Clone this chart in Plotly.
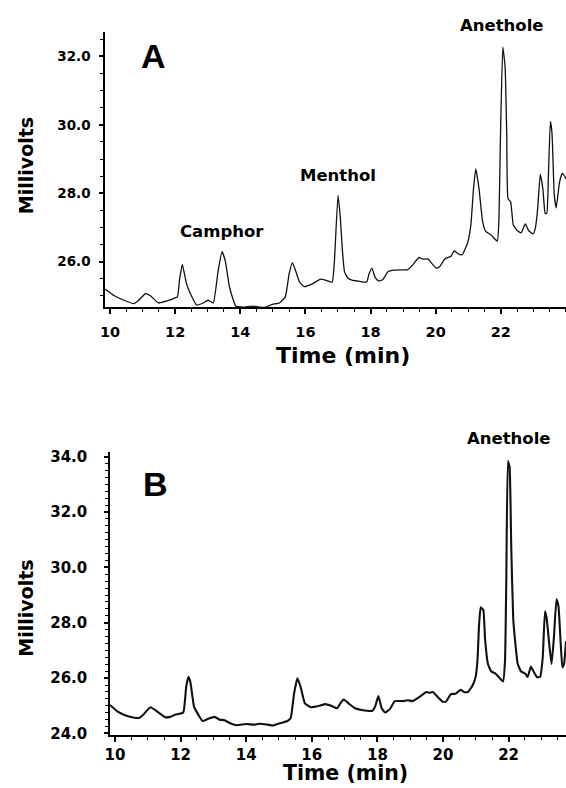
import plotly.graph_objects as go

# ---------------- data ----------------
time_a = [9.85, 10.12, 10.43, 10.73, 10.88, 11.09, 11.24, 11.49, 11.75, 12.0, 12.07, 12.14, 12.22,
          12.35, 12.47, 12.66, 12.86, 13.01, 13.17, 13.32, 13.44, 13.54, 13.67, 13.86, 14.08, 14.38,
          14.59, 14.79, 14.99, 15.2, 15.38, 15.5, 15.6, 15.7, 15.82, 15.96, 16.21, 16.47, 16.64,
          16.82, 16.89, 17.0, 17.07, 17.13, 17.2, 17.3, 17.43, 17.63, 17.88, 17.95, 18.04, 18.14,
          18.24, 18.36, 18.54, 18.69, 18.9, 19.13, 19.31, 19.48, 19.61, 19.76, 19.86, 20.02, 20.12,
          20.29, 20.47, 20.57, 20.72, 20.82, 20.98, 21.08, 21.16, 21.23, 21.33, 21.44, 21.54, 21.7,
          21.89, 21.94, 21.99, 22.06, 22.13, 22.18, 22.22, 22.3, 22.38, 22.5, 22.62, 22.75, 22.85,
          22.99, 23.06, 23.13, 23.21, 23.29, 23.36, 23.41, 23.46, 23.52, 23.57, 23.64, 23.7, 23.8,
          23.89, 24.0]
mv_a = [25.2, 25.01, 24.87, 24.77, 24.87, 25.06, 25.0, 24.79, 24.85, 24.94, 24.97, 25.5, 25.92,
        25.35, 25.06, 24.73, 24.79, 24.87, 24.79, 25.73, 26.29, 26.02, 25.25, 24.70, 24.67, 24.70,
        24.67, 24.67, 24.75, 24.79, 24.96, 25.64, 25.97, 25.73, 25.40, 25.27, 25.35, 25.49, 25.45,
        25.40, 26.02, 27.94, 27.3, 26.4, 25.7, 25.52, 25.46, 25.43, 25.40, 25.63, 25.81, 25.54,
        25.44, 25.46, 25.71, 25.75, 25.76, 25.76, 25.92, 26.12, 26.07, 26.08, 25.97, 25.81, 25.85,
        26.09, 26.16, 26.31, 26.21, 26.21, 26.55, 27.08, 28.13, 28.71, 28.13, 27.17, 26.88, 26.78,
        26.6, 27.2, 29.76, 32.27, 31.7, 29.76, 27.84, 27.75, 27.08, 26.91, 26.84, 27.1, 26.91,
        26.81, 26.98, 27.55, 28.56, 28.13, 27.41, 27.41, 28.51, 30.1, 29.76, 27.94, 27.57, 28.32,
        28.59, 28.42]

time_b = [9.85, 10.07, 10.27, 10.52, 10.73, 10.86, 11.08, 11.28, 11.53, 11.68, 11.83, 12.08, 12.17,
          12.24, 12.3, 12.41, 12.54, 12.67, 12.84, 13.04, 13.19, 13.34, 13.49, 13.7, 14.0, 14.25,
          14.4, 14.65, 14.82, 15.0, 15.26, 15.36, 15.46, 15.56, 15.66, 15.79, 15.96, 16.21, 16.41,
          16.61, 16.77, 16.87, 16.97, 17.12, 17.32, 17.52, 17.85, 17.93, 18.03, 18.13, 18.23, 18.38,
          18.53, 18.78, 18.93, 19.08, 19.28, 19.49, 19.59, 19.69, 19.84, 19.99, 20.09, 20.24, 20.39,
          20.54, 20.64, 20.76, 20.9, 21.0, 21.05, 21.1, 21.15, 21.23, 21.28, 21.37, 21.47, 21.6,
          21.73, 21.83, 21.89, 21.93, 21.98, 22.03, 22.08, 22.14, 22.2, 22.28, 22.38, 22.51, 22.58,
          22.68, 22.76, 22.86, 22.96, 23.04, 23.11, 23.16, 23.23, 23.31, 23.38, 23.46, 23.52, 23.59,
          23.64, 23.69, 23.75]
mv_b = [25.03, 24.8, 24.68, 24.59, 24.56, 24.68, 24.95, 24.8, 24.59, 24.6, 24.68, 24.76, 25.68,
        26.05, 25.85, 24.97, 24.68, 24.45, 24.53, 24.6, 24.5, 24.48, 24.38, 24.3, 24.34, 24.32,
        24.35, 24.32, 24.29, 24.36, 24.45, 24.57, 25.44, 25.99, 25.68, 25.09, 24.95, 24.99, 25.06,
        24.99, 24.91, 25.09, 25.23, 25.09, 24.91, 24.85, 24.82, 24.97, 25.35, 24.91, 24.76, 24.88,
        25.17, 25.17, 25.2, 25.17, 25.32, 25.5, 25.47, 25.5, 25.32, 25.15, 25.15, 25.42, 25.44,
        25.58, 25.5, 25.5, 25.73, 26.08, 26.62, 27.92, 28.56, 28.45, 27.45, 26.51, 26.24, 26.16,
        26.0, 25.88, 26.62, 29.58, 33.84, 33.63, 30.77, 28.17, 27.33, 26.51, 26.24, 26.16, 26.04,
        26.42, 26.24, 26.04, 26.04, 26.74, 28.41, 28.17, 27.33, 26.51, 27.45, 28.85, 28.6, 27.22,
        26.39, 26.51, 27.33]

x_ticks = [10, 12, 14, 16, 18, 20, 22]
y_ticks_a = [26.0, 28.0, 30.0, 32.0]
y_ticks_b = [24.0, 26.0, 28.0, 30.0, 32.0, 34.0]

W, H = 566, 788
FONT = "DejaVu Sans"


def px(x):
    return x / W


def py(y):
    return 1 - y / H


fig = go.Figure()
fig.add_trace(go.Scatter(x=time_a, y=mv_a, mode="lines", xaxis="x", yaxis="y",
                         line=dict(color="#111111", width=1.3, shape="spline", smoothing=0.4),
                         showlegend=False))
fig.add_trace(go.Scatter(x=time_b, y=mv_b, mode="lines", xaxis="x2", yaxis="y2",
                         line=dict(color="#111111", width=2.1, shape="spline", smoothing=0.4),
                         showlegend=False))


def xaxis(domain, rng, anchor, fsize, standoff):
    return dict(domain=domain, range=rng, anchor=anchor, showline=True, linecolor="black",
                linewidth=1.6, ticks="outside", ticklen=5, tickwidth=1.6, tickcolor="black",
                tickvals=x_ticks, ticktext=[str(v) for v in x_ticks],
                minor=dict(dtick=0.5, tick0=0, ticks="outside", ticklen=3, tickwidth=1.3,
                           tickcolor="black", showgrid=False),
                showgrid=False, zeroline=False, ticklabelstandoff=standoff,
                tickfont=dict(family=FONT, size=fsize, color="black", weight="bold"))


def yaxis(domain, rng, anchor, tv, mdt, fsize, standoff):
    return dict(domain=domain, range=rng, anchor=anchor, showline=True, linecolor="black",
                linewidth=1.6, ticks="outside", ticklen=4, tickwidth=1.6, tickcolor="black",
                tickvals=tv, ticktext=[f"{v:.1f}" for v in tv],
                minor=dict(dtick=mdt, tick0=0, ticks="outside", ticklen=3, tickwidth=1.2,
                           tickcolor="black", showgrid=False),
                showgrid=False, zeroline=False, ticklabelstandoff=standoff,
                tickfont=dict(family=FONT, size=fsize, color="black", weight="bold"))


fig.update_layout(
    width=W, height=H, margin=dict(l=0, r=0, t=0, b=0),
    paper_bgcolor="white", plot_bgcolor="white", showlegend=False,
    xaxis=xaxis([px(101), 1], [9.85, 24.0], "y", 14.5, 5),
    yaxis=yaxis([py(307.5), py(27.3)], [24.66, 32.72], "x", y_ticks_a, 0.5, 13.5, 6),
    xaxis2=xaxis([px(106), 1], [9.85, 23.75], "y2", 15, 0),
    yaxis2=yaxis([py(742), py(455)], [23.954, 34.15], "x2", y_ticks_b, 0.25, 15, 14),
)


def note(text, x, y, size, family=FONT, angle=0):
    fig.add_annotation(text=text, x=px(x), y=py(y), xref="paper", yref="paper",
                       xanchor="center", yanchor="middle", showarrow=False, textangle=angle,
                       borderpad=0,
                       font=dict(family=family, size=size, color="black", weight="bold"))


# panel A
note("A", 150, 52, 34, family="Liberation Sans")
note("Anethole", 501, 21, 16.5)
note("Menthol", 336, 173, 16.5)
note("Camphor", 219, 230, 16.5)
note("Time (min)", 341, 356, 22)
note("Millivolts", 21, 163, 19, angle=-90)
# panel B
note("B", 152, 487, 34, family="Liberation Sans")
note("Anethole", 508, 441, 16.5)
note("Time (min)", 344, 780.5, 20.5)
note("Millivolts", 21, 613, 19, angle=-90)

fig.write_html(
    "out.html",
    config={"displayModeBar": False},
    post_script="document.body.style.margin='0';document.body.style.overflow='hidden';",
)
